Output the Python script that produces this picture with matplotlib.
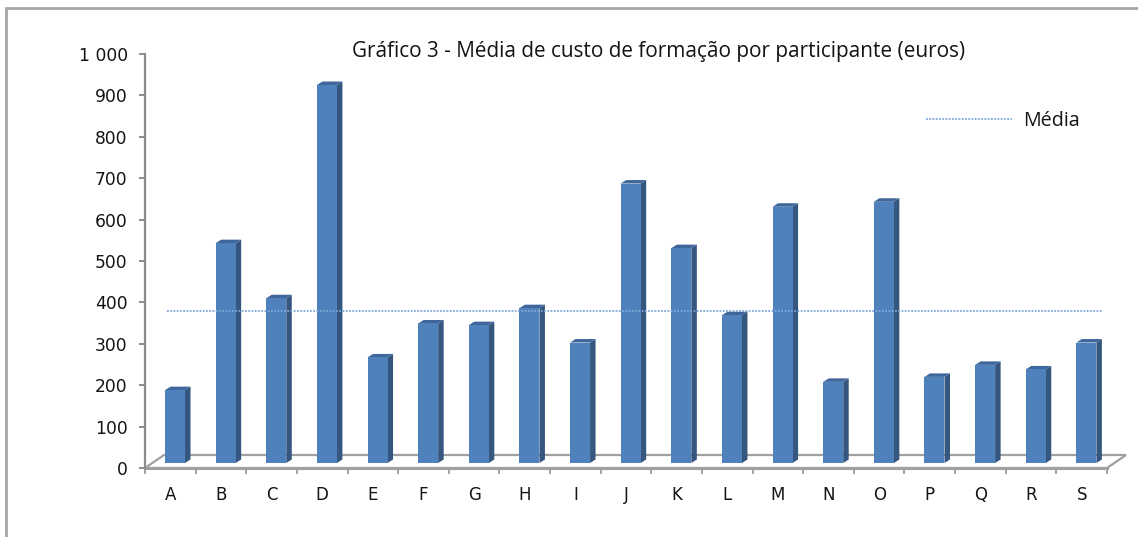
import matplotlib
matplotlib.use("Agg")
import matplotlib.pyplot as plt
import matplotlib.patches as mpatches
from matplotlib.transforms import ScaledTranslation
from matplotlib.lines import Line2D

# ---------------- data ----------------
categories = ["A", "B", "C", "D", "E", "F", "G", "H", "I", "J",
              "K", "L", "M", "N", "O", "P", "Q", "R", "S"]
custo = [176, 531, 398, 913, 255, 337, 333, 374, 291, 675,
         519, 357, 619, 196, 631, 208, 237, 226, 291]
media = 380
y_ticks = [0, 100, 200, 300, 400, 500, 600, 700, 800, 900, 1000]
y_tick_labels = ["0", "100", "200", "300", "400", "500", "600", "700",
                 "800", "900", "1 000"]
title = "Gráfico 3 - Média de custo de formação por participante (euros)"
legend_label = "Média"

# ---------------- layout ----------------
W, H, DPI = 1138, 537, 100
fig = plt.figure(figsize=(W / DPI, H / DPI), dpi=DPI)
fig.patch.set_facecolor("white")

ax_l, ax_r, ax_top, ax_bot = 145, 1107, 54, 468   # pixel box of the axes
ax = fig.add_axes([ax_l / W, (H - ax_bot) / H, (ax_r - ax_l) / W, (ax_bot - ax_top) / H])
n = len(categories)
ax.set_xlim(-0.5, n - 0.5)
ax.set_ylim(0, 1000)
ax.set_facecolor("none")

px_x = (ax_r - ax_l) / n          # pixels per category
px_y = (ax_bot - ax_top) / 1000   # pixels per unit

FRONT = "#4F81BD"
SIDE = "#34567F"
TOP = "#3F679C"
GRAY = "#A0A0A0"
TXT = "#141414"
TITLE_FONT = "Open Sans"

# floor (3D base plane)
floor_dx = 19 / px_x
floor_dy = 13 / px_y
floor = mpatches.Polygon([(-0.5, 0), (n - 0.5, 0), (n - 0.5 + floor_dx, floor_dy),
                          (-0.5 + floor_dx, floor_dy)], closed=True,
                         facecolor="white", edgecolor=GRAY, lw=1.6, clip_on=False, zorder=1)
ax.add_patch(floor)

# bars with pseudo-3D faces
off = ScaledTranslation(4.7 / DPI, 5 / DPI, fig.dpi_scale_trans)
trans = ax.transData + off
bw = 20 / px_x
ddx = 5.5 / px_x
ddy = 3.5 / px_y
for i, v in enumerate(custo):
    x0, x1 = i - bw / 2, i + bw / 2
    ax.add_patch(mpatches.Polygon([(x1, 0), (x1 + ddx, ddy), (x1 + ddx, v + ddy), (x1, v)],
                                  closed=True, facecolor=SIDE, edgecolor="none",
                                  transform=trans, clip_on=False, zorder=3))
    ax.add_patch(mpatches.Polygon([(x0, v), (x1, v), (x1 + ddx, v + ddy), (x0 + ddx, v + ddy)],
                                  closed=True, facecolor=TOP, edgecolor="none",
                                  transform=trans, clip_on=False, zorder=3))
ax.bar(range(n), custo, width=bw, color=FRONT, edgecolor="none",
       transform=trans, clip_on=False, zorder=4)

# média line
ax.axhline(media, xmin=(167 - ax_l) / (ax_r - ax_l), xmax=(1103 - ax_l) / (ax_r - ax_l),
           color="#7EA6D8", lw=1.3, ls=(0, (1, 0.8)), zorder=5)

# axes styling
for s in ["top", "right"]:
    ax.spines[s].set_visible(False)
ax.spines["left"].set_color("#8C8C8C")
ax.spines["left"].set_linewidth(1.6)
ax.spines["bottom"].set_color(GRAY)
ax.spines["bottom"].set_linewidth(2.2)
ax.spines["bottom"].set_zorder(2)

ax.set_yticks(y_ticks)
ax.set_yticklabels(y_tick_labels)
ax.tick_params(axis="y", direction="out", length=4.5, width=1.4, color="#8C8C8C",
               pad=8, labelsize=12.3, labelcolor=TXT)
ax.set_xticks(range(n))
ax.set_xticklabels(categories)
ax.set_xticks([i - 0.5 for i in range(n + 1)], minor=True)
ax.tick_params(axis="x", which="major", length=0, pad=13, labelsize=12, labelcolor=TXT)
ax.tick_params(axis="x", which="minor", direction="out", length=4.5, width=1.4, color=GRAY)
for lab in ax.get_yticklabels() + ax.get_xticklabels():
    lab.set_fontfamily("DejaVu Sans")

# title, sized so that it spans the same width as in the reference
t = fig.text(659 / W, 1 - 52 / H, title, ha="center", va="center",
             fontsize=13, family=TITLE_FONT, color=TXT)
fig.canvas.draw()
w_px = t.get_window_extent().width
fs = 13 * 612 / w_px
t.set_fontsize(fs)

# legend
leg_fs = fs * 0.95
em = leg_fs * DPI / 72
handle = Line2D([], [], color="#7EA6D8", lw=1.3, ls=(0, (1, 0.8)))
leg = fig.legend([handle], [legend_label], loc="center left",
                 bbox_to_anchor=(926 / W, 1 - 121 / H), frameon=False,
                 handlelength=86 / em, handletextpad=11 / em,
                 borderpad=0, borderaxespad=0,
                 prop={"family": TITLE_FONT, "size": leg_fs})
for txt in leg.get_texts():
    txt.set_color(TXT)

# chart border
fig.add_artist(mpatches.Rectangle((6 / W, -0.1), 1.2, (H - 8) / H + 0.1,
                                  transform=fig.transFigure, fill=False,
                                  edgecolor="#A6A6A6", lw=2))

fig.savefig("out.png", dpi=DPI)
